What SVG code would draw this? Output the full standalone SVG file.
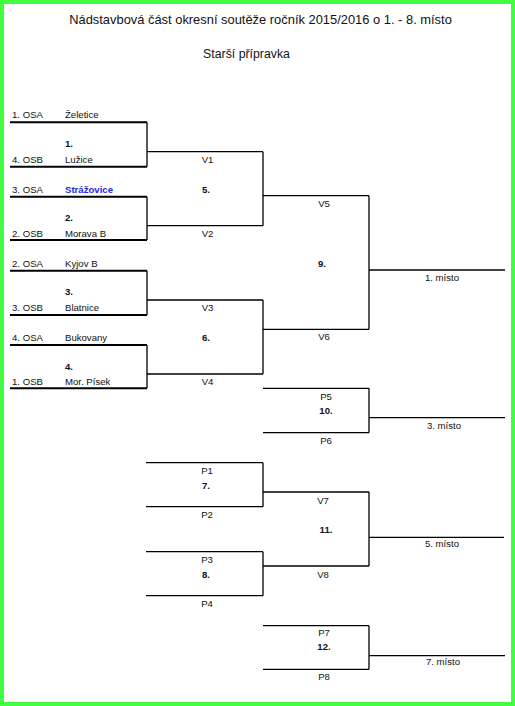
<svg xmlns="http://www.w3.org/2000/svg" width="515" height="706" viewBox="0 0 515 706">
<style>
text{font-family:"Liberation Sans",Arial,sans-serif;font-size:9.6px;fill:#111}
.t{font-size:12.3px}
.tt{font-size:12.9px}
.b{font-weight:bold}
.c{text-anchor:middle}
.blue{fill:#1f1fe6;font-weight:bold}
.tl{stroke:#000;stroke-width:2;fill:none}
.ln{stroke:#000;stroke-width:1.3;fill:none}
</style>
<rect x="0" y="0" width="515" height="706" fill="#fff"/>
<rect x="2" y="2" width="511" height="702" fill="none" stroke="#41fc41" stroke-width="4"/>
<g id="title">
<text class="tt c" x="260.5" y="24">Nádstavbová část okresní soutěže ročník 2015/2016 o 1. - 8. místo</text>
<text class="t c" x="246.5" y="58">Starší přípravka</text>
</g>
<g id="connectors">
<path class="tl" d="M10 122.3H147M10 166.7H147M10 196.7H147M10 240H147M10 270.7H147M10 315H147M10 345H147M10 388.3H147"/>
<path class="ln" d="M147 122.3V166.7M147 196.7V240M147 270.7V315M147 345V388.3"/>
<path class="ln" d="M147 151.7H263M147 225.7H263M147 300H263M147 374H263M263 151.7V225.7M263 300V374"/>
<path class="ln" d="M263 195.7H369M263 329.3H369M369 195.7V329.3M369 270H505"/>
<path class="ln" d="M263 388.3H369M263 432.7H369M369 388.3V432.7M369 417.7H505"/>
<path class="ln" d="M146 462.7H263M146 506.7H263M263 462.7V506.7M146 551.7H263M146 595.7H263M263 551.7V595.7"/>
<path class="ln" d="M263 492H369M263 566H369M369 492V566M369 537.3H504"/>
<path class="ln" d="M263 625.7H369M263 669.3H369M369 625.7V669.3M369 655.7H505"/>
</g>
<g id="team-zeletice"><text x="12" y="118.3">1. OSA</text><text x="65" y="118.3">Želetice</text></g>
<g id="team-luzice"><text x="12" y="163.3">4. OSB</text><text x="65" y="163.3">Lužice</text></g>
<g id="team-strazovice"><text x="12" y="192.7">3. OSA</text><text class="blue" x="65" y="192.7">Strážovice</text></g>
<g id="team-morava"><text x="12" y="237.3">2. OSB</text><text x="65" y="237.3">Morava B</text></g>
<g id="team-kyjov"><text x="12" y="266.7">2. OSA</text><text x="65" y="266.7">Kyjov B</text></g>
<g id="team-blatnice"><text x="12" y="311">3. OSB</text><text x="65" y="311">Blatnice</text></g>
<g id="team-bukovany"><text x="12" y="340.7">4. OSA</text><text x="65" y="340.7">Bukovany</text></g>
<g id="team-pisek"><text x="12" y="385">1. OSB</text><text x="65" y="385">Mor. Písek</text></g>
<g id="match1"><text class="b" x="65" y="146.7">1.</text></g>
<g id="match2"><text class="b" x="65" y="220.7">2.</text></g>
<g id="match3"><text class="b" x="65" y="295">3.</text></g>
<g id="match4"><text class="b" x="65" y="370">4.</text></g>
<g id="match5"><text class="c" x="207.5" y="163">V1</text><text class="b" x="202" y="192.7">5.</text><text class="c" x="207.5" y="237.3">V2</text></g>
<g id="match6"><text class="c" x="207.5" y="311">V3</text><text class="b" x="202" y="340.7">6.</text><text class="c" x="207.5" y="385">V4</text></g>
<g id="match9"><text class="c" x="324" y="207">V5</text><text class="b c" x="322" y="266.7">9.</text><text class="c" x="324" y="340">V6</text><text class="c" x="442" y="281">1. místo</text></g>
<g id="match10"><text class="c" x="326" y="400">P5</text><text class="b c" x="326" y="414">10.</text><text class="c" x="326" y="444">P6</text><text class="c" x="444" y="429">3. místo</text></g>
<g id="match7"><text class="c" x="207" y="474">P1</text><text class="b c" x="206" y="489.3">7.</text><text class="c" x="207" y="518.3">P2</text></g>
<g id="match8"><text class="c" x="207" y="562.7">P3</text><text class="b c" x="206" y="577.7">8.</text><text class="c" x="207" y="607.3">P4</text></g>
<g id="match11"><text class="c" x="323" y="504">V7</text><text class="b c" x="326" y="533.3">11.</text><text class="c" x="323" y="578.3">V8</text><text class="c" x="442" y="547.3">5. místo</text></g>
<g id="match12"><text class="c" x="324" y="635.7">P7</text><text class="b c" x="324" y="650">12.</text><text class="c" x="324" y="680">P8</text><text class="c" x="443" y="665">7. místo</text></g>
</svg>
